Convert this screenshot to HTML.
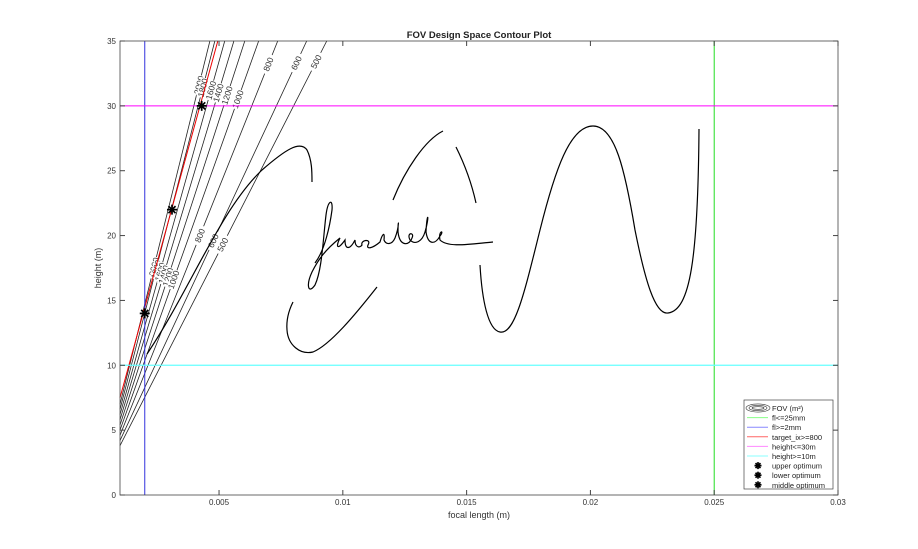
<!DOCTYPE html>
<html><head><meta charset="utf-8"><style>
body{margin:0;background:#fff;font-family:"Liberation Sans",sans-serif}
svg{display:block}
text{font-family:"Liberation Sans",sans-serif}
</style></head><body>
<svg width="918" height="549" viewBox="0 0 918 549">
<rect width="918" height="549" fill="#fff"/>
<text x="479" y="38" text-anchor="middle" font-size="9.5" font-weight="bold" fill="#222">FOV Design Space Contour Plot</text>
<g id="plot"></g>
<g id="axes"></g>
<g id="scribble" fill="none" stroke="#000" stroke-width="1.2">
<path d="M147,354 C190,290 220,210 262,170 C285,150 300,140 307,150 C312,160 312,172 312,182"/>
<path d="M377,287 C355,315 330,345 313,352 C300,355 288,345 287,330 C286,318 290,308 293,302"/>
<path d="M393,200 C405,170 425,140 443,131"/>
<path d="M456,147 C465,165 472,185 476,203"/>
<path d="M480,265 C482,300 488,330 500,332 C515,335 525,290 540,230 C555,170 570,126 593,126 C615,126 625,170 635,230 C645,280 655,315 668,313 C690,310 698,260 699,129"/>
<path d="M315,263 C325,250 330,225 332,210 C333,198 328,200 326,215 C323,240 322,270 315,285 C308,295 306,285 312,272 C318,260 325,250 340,238 C335,248 338,250 345,240 C345,250 350,250 355,240 C355,248 360,248 362,245 C360,240 372,238 368,245 C366,250 373,248 380,242 C382,235 385,230 384,240 C386,245 392,245 395,238 C400,225 398,215 398,232 C400,248 410,245 412,238 C415,232 406,232 410,240 C415,245 422,242 425,232 C430,215 427,210 426,232 C428,245 435,245 440,236 C445,230 438,230 440,240 C448,248 470,244 493,242"/>
</g>
<g id="legend"></g>
</svg>
<script>
const xMin=0.001,xMax=0.03,yMin=0,yMax=35;
const L=120,R=838,T=41,B=495;
const levels=[2000,1800,1600,1400,1200,1000,800,600,500];
const topFl=[0.00463,0.00483,0.00523,0.0056,0.00604,0.0066,0.00737,0.00854,0.00935];
const bottomH=[7.0,6.6,6.2,5.8,5.4,5.0,4.6,4.2,3.8];
const labelTopH=[31.6,31.4,31.2,31.0,30.8,30.5,33.2,33.3,33.4];
const labelMidH=[17.6,17.4,17.2,17.0,16.8,16.6,20.0,19.6,19.3];
const targetTopFl=0.00495, targetBottomH=7.5;
const optFl=[0.0043,0.0031,0.002], optH=[30,22,14];
const optNames=['upper-optimum','middle-optimum','lower-optimum'];
const xTicks=[0.005,0.01,0.015,0.02,0.025,0.03];
const xTickLabels=['0.005','0.01','0.015','0.02','0.025','0.03'];
const yTicks=[0,5,10,15,20,25,30,35];
const flMax=0.025, flMin=0.002, hMax=30, hMin=10;
const sx=v=>L+(v-xMin)/(xMax-xMin)*(R-L);
const sy=v=>B-(v-yMin)/(yMax-yMin)*(B-T);
const NS='http://www.w3.org/2000/svg';
function mk(tag,attrs,parent){const e=document.createElementNS(NS,tag);for(const k in attrs)e.setAttribute(k,attrs[k]);parent.appendChild(e);return e;}
const plot=document.getElementById('plot'), axes=document.getElementById('axes'), leg=document.getElementById('legend');
levels.forEach((lv,i)=>{
  const x1=sx(xMin),y1=sy(bottomH[i]),x2=sx(topFl[i]),y2=sy(35);
  const ln=mk('line',{x1,y1,x2,y2,stroke:'#222','stroke-width':0.8},plot);
  
  
  const ang=Math.atan2(y2-y1,x2-x1)*180/Math.PI;
  [labelTopH[i],labelMidH[i]].forEach(h=>{
    const t=(h-bottomH[i])/(35-bottomH[i]);
    const px=x1+(x2-x1)*t, py=y1+(y2-y1)*t;
    const g=mk('g',{transform:`translate(${px},${py}) rotate(${ang})`},plot);
    mk('rect',{x:-10,y:-4,width:20,height:8,fill:'#fff'},g);
    const tx=mk('text',{x:0,y:3,'text-anchor':'middle','font-size':8.5,fill:'#333'},g);
    tx.textContent=lv;
    
    
  });
});
function cl(attrs,name){const e=mk('line',attrs,plot);}
cl({x1:sx(xMin),y1:sy(targetBottomH),x2:sx(targetTopFl),y2:sy(35),stroke:'#e00','stroke-width':1},'target-line');
cl({x1:sx(flMin),y1:T,x2:sx(flMin),y2:B,stroke:'#33d','stroke-width':1},'fl-min-line');
cl({x1:sx(flMax),y1:T,x2:sx(flMax),y2:B,stroke:'#2d2','stroke-width':1},'fl-max-line');
cl({x1:L,y1:sy(hMax),x2:R,y2:sy(hMax),stroke:'#f0f','stroke-width':1},'height-max-line');
cl({x1:L,y1:sy(hMin),x2:R,y2:sy(hMin),stroke:'#6ff','stroke-width':1.2},'height-min-line');
function star(x,y,p,s){for(let a=0;a<4;a++){const r=a*Math.PI/4;mk('line',{x1:x-s*Math.cos(r),y1:y-s*Math.sin(r),x2:x+s*Math.cos(r),y2:y+s*Math.sin(r),stroke:'#000','stroke-width':1.7},p);}}
optFl.forEach((f,i)=>{const g=mk('g',{},plot);star(sx(f),sy(optH[i]),g,5);});
mk('rect',{x:L,y:T,width:R-L,height:B-T,fill:'none',stroke:'#444','stroke-width':0.8},axes);
xTicks.forEach((v,i)=>{const x=sx(v);mk('line',{x1:x,y1:B,x2:x,y2:B-5,stroke:'#444'},axes);mk('line',{x1:x,y1:T,x2:x,y2:T+5,stroke:'#444'},axes);
 const t=mk('text',{x,y:B+10,'text-anchor':'middle','font-size':8,fill:'#333'},axes);t.textContent=xTickLabels[i];});
yTicks.forEach(v=>{const y=sy(v);mk('line',{x1:L,y1:y,x2:L+5,y2:y,stroke:'#444'},axes);mk('line',{x1:R,y1:y,x2:R-5,y2:y,stroke:'#444'},axes);
 const t=mk('text',{x:L-4,y:y+3,'text-anchor':'end','font-size':8,fill:'#333'},axes);t.textContent=v;});
let t=mk('text',{x:479,y:518,'text-anchor':'middle','font-size':9,fill:'#333'},axes);t.textContent='focal length (m)';
t=mk('text',{x:0,y:0,transform:'translate(101,268) rotate(-90)','text-anchor':'middle','font-size':9,fill:'#333'},axes);t.textContent='height (m)';
mk('rect',{x:744,y:400,width:89,height:89,fill:'#fff',stroke:'#444','stroke-width':0.7},leg);
const items=[['FOV (m²)','c'],['fl<=25mm','#8f8'],['fl>=2mm','#88f'],['target_ix>=800','#f66'],['height<=30m','#f8f'],['height>=10m','#8ff'],['upper optimum','s'],['lower optimum','s'],['middle optimum','s']];
items.forEach((it,i)=>{const y=408+i*9.6;const g=mk('g',{},leg);
 
 if(it[1]=='c'){[9,6,3].forEach(r=>mk('ellipse',{cx:758,cy:y,rx:r+3,ry:r*0.45,fill:'none',stroke:'#333','stroke-width':0.6},g));}
 else if(it[1]=='s'){star(758,y,g,3.5);}
 else mk('line',{x1:747,y1:y,x2:768,y2:y,stroke:it[1],'stroke-width':1},g);
 const tt=mk('text',{x:772,y:y+3,'font-size':7.5,fill:'#222'},g);tt.textContent=it[0];});
</script>
</body></html>
